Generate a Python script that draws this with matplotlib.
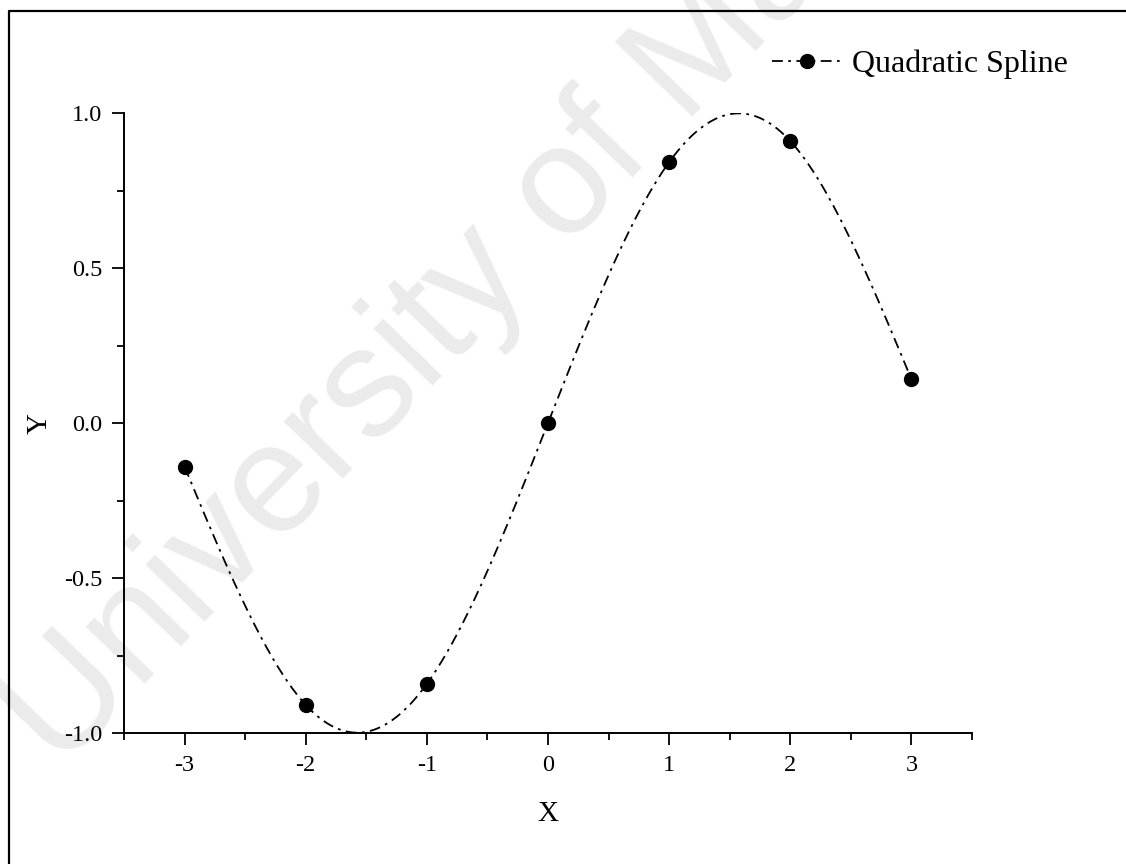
import numpy as np
import matplotlib
matplotlib.use("Agg")
import matplotlib.pyplot as plt
from matplotlib.lines import Line2D
from matplotlib.ticker import MultipleLocator

# sample points
x_pts = [-3, -2, -1, 0, 1, 2, 3]
y_pts = [-0.14112, -0.90930, -0.84147, 0.0, 0.84147, 0.90930, 0.14112]
series_name = "Quadratic Spline"
x_ticks = [-3, -2, -1, 0, 1, 2, 3]
y_ticks = [-1.0, -0.5, 0.0, 0.5, 1.0]


def spline_curve(x, y, xs):
    # natural cubic spline through the sample points
    x = np.asarray(x, float)
    y = np.asarray(y, float)
    n = len(x)
    h = np.diff(x)
    A = np.zeros((n, n))
    r = np.zeros(n)
    A[0, 0] = A[-1, -1] = 1
    for i in range(1, n - 1):
        A[i, i - 1] = h[i - 1]
        A[i, i] = 2 * (h[i - 1] + h[i])
        A[i, i + 1] = h[i]
        r[i] = 3 * ((y[i + 1] - y[i]) / h[i] - (y[i] - y[i - 1]) / h[i - 1])
    c = np.linalg.solve(A, r)
    b = (y[1:] - y[:-1]) / h - h * (2 * c[:-1] + c[1:]) / 3
    d = (c[1:] - c[:-1]) / (3 * h)
    idx = np.clip(np.searchsorted(x, xs) - 1, 0, n - 2)
    dx = xs - x[idx]
    return y[idx] + b[idx] * dx + c[idx] * dx ** 2 + d[idx] * dx ** 3


plt.rcParams['font.family'] = ['Liberation Serif', 'DejaVu Serif']

W, H = 1126, 864
fig = plt.figure(figsize=(W / 100, H / 100), dpi=100)
ax = fig.add_axes([124 / W, 1 - 733 / H, (972 - 124) / W, (733 - 113) / H])
ax.patch.set_alpha(0)

# faint watermark behind everything
fig.text(60 / W, 1 - 772 / H, "University of Malaya", fontsize=112,
         family='Liberation Sans', color='#ebebeb', rotation=46,
         rotation_mode='anchor', ha='left', va='baseline', zorder=-5)

# frame line along left and top of the page
fig.add_artist(Line2D([9 / W, 9 / W, 1.0], [0, 1 - 11 / H, 1 - 11 / H],
                      transform=fig.transFigure, color='black', lw=1.6))

xs = np.linspace(x_pts[0], x_pts[-1], 600)
ys = spline_curve(x_pts, y_pts, xs)
dash = (0, (6, 3, 1.5, 3))
ax.plot(xs, ys, color='black', lw=1.3, linestyle=dash, zorder=2)
ax.plot(x_pts, y_pts, 'o', color='black', ms=10, zorder=3)

ax.set_xlim(-3.5, 3.5)
ax.set_ylim(-1.0, 1.0)
ax.set_xticks(x_ticks)
ax.set_xticklabels([str(v) for v in x_ticks])
ax.set_yticks(y_ticks)
ax.set_yticklabels([f"{v:.1f}" for v in y_ticks])
ax.xaxis.set_minor_locator(MultipleLocator(0.5))
ax.yaxis.set_minor_locator(MultipleLocator(0.25))

for side in ('top', 'right'):
    ax.spines[side].set_visible(False)
for side in ('left', 'bottom'):
    ax.spines[side].set_linewidth(1.4)

ax.tick_params(which='major', direction='out', length=8.5, width=1.3,
               labelsize=17.5, pad=7)
ax.tick_params(which='minor', direction='out', length=5, width=1.3)

ax.set_xlabel("X", fontsize=21, labelpad=18)
ax.set_ylabel("Y", fontsize=21, labelpad=8)

handle = Line2D([], [], color='black', lw=1.3, linestyle=dash,
                marker='o', ms=10)
ax.legend([handle], [series_name], loc='center left',
          bbox_to_anchor=(772 / W, 1 - 64 / H), bbox_transform=fig.transFigure,
          frameon=False, fontsize=23, handlelength=2.2, handletextpad=0.3,
          borderpad=0, borderaxespad=0)

fig.savefig("out.png", dpi=100)
